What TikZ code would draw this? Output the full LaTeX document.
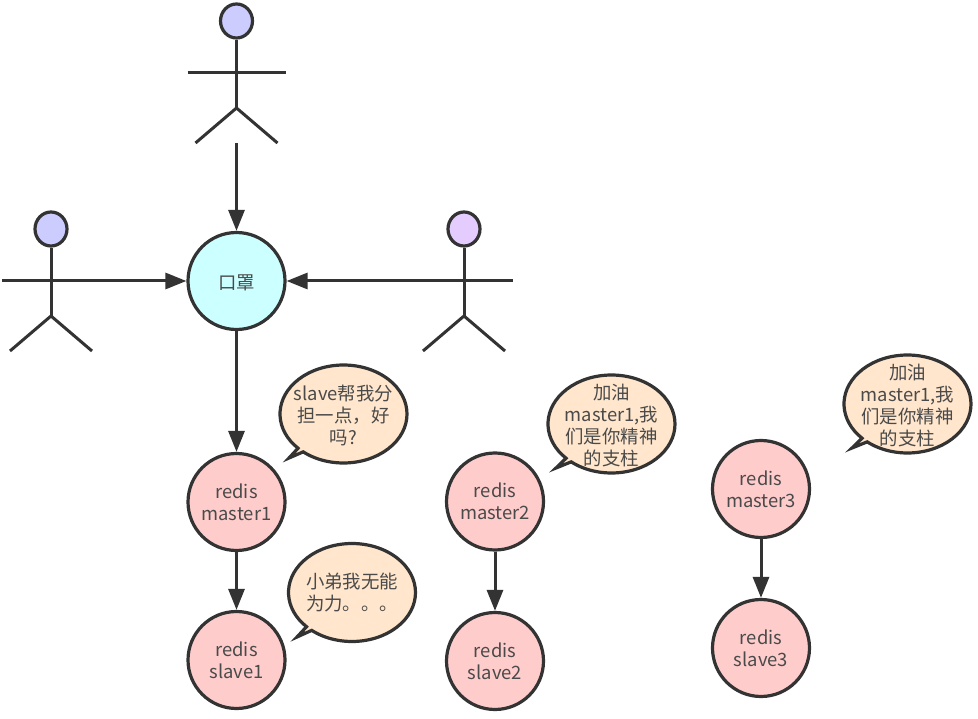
\documentclass[tikz,border=0pt]{standalone}
\usepackage{fontspec}
\setmainfont{Noto Sans CJK SC}
\usetikzlibrary{arrows.meta,shapes.geometric}
\definecolor{ink}{HTML}{333333}
\definecolor{txt}{HTML}{4A4A4A}
\definecolor{pinkfill}{HTML}{FFCCCC}
\definecolor{cyanfill}{HTML}{CCFFFF}
\definecolor{peachfill}{HTML}{FFE6CC}
\definecolor{bluehead}{HTML}{CCCCFF}
\definecolor{purplehead}{HTML}{E5CCFF}
\tikzset{
  x=1pt,y=1pt,
  lab/.style={text=txt,font=\fontsize{18.4}{22}\selectfont,align=center,inner sep=0pt},
  disc/.style={circle,draw=ink,line width=3.2pt,minimum size=97pt,inner sep=0pt,lab},
  redisnode/.style={disc,fill=pinkfill,execute at begin node=\vspace*{2pt}},
  masknode/.style={disc,fill=cyanfill},
  headnode/.style={ellipse,draw=ink,line width=3.2pt,minimum width=32pt,minimum height=34pt,inner sep=0pt},
  limb/.style={draw=ink,line width=3pt},
  link/.style={draw=ink,line width=3pt,-{Triangle[length=21pt,width=16pt]}},
  bubbleline/.style={draw=ink,line width=3.2pt,fill=peachfill,line join=miter},
}
% name, x, head centre y, head colour
\newcommand{\stickman}[4]{%
  \node[headnode,fill=#4] (#1-head) at (#2,-#3) {};
  \coordinate (#1-hip) at (#2,-#3-87);
  \coordinate (#1-armL) at (#2-49,-#3-52);
  \coordinate (#1-armR) at (#2+49,-#3-52);
  \coordinate (#1-legL) at (#2-41,-#3-122);
  \coordinate (#1-legR) at (#2+41,-#3-122);
  \path[limb] (#1-head.south) -- (#1-hip);
  \path[limb] (#1-armL) -- (#1-armR);
  \path[limb] (#1-legL) -- (#1-hip) -- (#1-legR);
}
% name, cx, cy, tipx, tipy, text, text dy
\newcommand{\bubble}[7]{%
  \path[bubbleline] (#2,-#3) ++(230.6:63.5 and 49) arc[start angle=230.6,end angle=584.3,x radius=63.5,y radius=49]
     -- (#4,-#5) -- cycle;
  \node[lab] (#1) at (#2,-#3-#7) {#6};
}
\begin{document}
\begin{tikzpicture}
\useasboundingbox (0,0) rectangle (978,-719);
\fill[white] (0,0) rectangle (978,-719);

\stickman{topman}{236.5}{21}{bluehead}
\stickman{leftman}{51}{229}{bluehead}
\stickman{rightman}{464}{229}{purplehead}

\node[masknode] (mask) at (236.5,-281) {};
\node[lab] (masklabel) at (236.5,-283) {口罩};
\node[redisnode] (m1) at (236.5,-502) {redis\\master1};
\node[redisnode] (s1) at (236.5,-660) {redis\\slave1};
\node[redisnode] (m2) at (495,-501.5) {redis\\master2};
\node[redisnode] (s2) at (495,-661) {redis\\slave2};
\node[redisnode] (m3) at (761,-489) {redis\\master3};
\node[redisnode] (s3) at (761,-648) {redis\\slave3};

\coordinate (topstart) at (236.5,-143);
\coordinate (leftstart) at (99,-281);
\coordinate (rightstart) at (415,-281);
\path[link] (topstart) -- (mask);
\path[link] (leftstart) -- (mask);
\path[link] (rightstart) -- (mask);
\path[link] (mask) -- (m1);
\path[link] (m1) -- (s1);
\path[link] (m2) -- (s2);
\path[link] (m3) -- (s3);

\bubble{b1}{343.5}{414}{289}{458}{slave帮我分\\担一点，好\\吗?}{1}
\bubble{b2}{611.5}{424}{556}{468}{加油\\master1,我\\们是你精神\\的支柱}{2}
\bubble{b3}{907.5}{404}{852}{448}{加油\\master1,我\\们是你精神\\的支柱}{2}
\bubble{b4}{352}{592.5}{297}{637}{小弟我无能\\为力。。。}{0}
\end{tikzpicture}
\end{document}
